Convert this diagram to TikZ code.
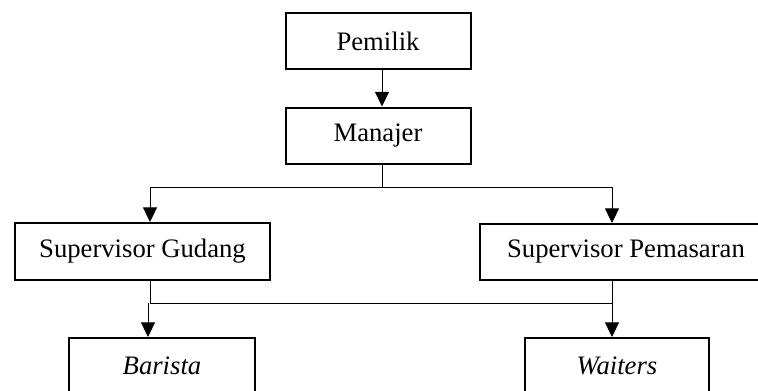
\documentclass[tikz,border=0pt]{standalone}
\usepackage{fontspec}
\setmainfont{Liberation Serif}
\usetikzlibrary{arrows.meta}
\tikzstyle{jabatanStyle} = [draw, line width=1.5pt, minimum height=42pt, inner sep=0pt]
\tikzstyle{garis} = [line width=.75pt]
\tikzstyle{panah} = [line width=.75pt, -{Triangle[width=10.5pt, length=11pt]}]
\begin{document}
\begin{tikzpicture}[x=.75pt, y=-.75pt, font=\fontsize{20}{24}\selectfont]
  \useasboundingbox (0,0) rectangle (758,390);
  \clip (0,0) rectangle (758,390);
  % kotak jabatan
  \node [jabatanStyle, minimum width=138.75pt] (pemilik) at (378,41) {Pemilik};
  \node [jabatanStyle, minimum width=138.75pt] (manajer) at (378,135.5) {Manajer};
  \node [jabatanStyle, minimum width=191.25pt, minimum height=42.75pt] (gudang) at (142.5,251.5) {Supervisor Gudang};
  \node [jabatanStyle, minimum width=219pt] (pemasaran) at (626,252) {Supervisor Pemasaran};
  \node [jabatanStyle, minimum width=139.5pt] (barista) at (162,366) {\itshape Barista};
  \node [jabatanStyle, minimum width=138pt] (waiters) at (617,366) {\itshape Waiters};
  % titik cabang
  \coordinate (atasKiri) at (150,187);
  \coordinate (atasKanan) at (612,187);
  \coordinate (bawahKiri) at (150,303);
  \coordinate (bawahKanan) at (612,303);
  % garis
  \draw [panah] ([xshift=3pt]pemilik.south) -- ([xshift=3pt]manajer.north);
  \draw [garis] ([xshift=3pt]manajer.south) |- (atasKiri);
  \draw [garis] ([xshift=3pt]manajer.south) |- (atasKanan);
  \draw [panah] (atasKiri) -- (atasKiri |- gudang.north);
  \draw [panah] (atasKanan) -- (atasKanan |- pemasaran.north);
  \draw [garis] (gudang.south -| bawahKiri) -- (bawahKiri) -- (bawahKanan) -- (bawahKanan |- pemasaran.south);
  \draw [panah] ([xshift=-1.5pt]bawahKiri) -- ([xshift=-1.5pt]bawahKiri |- barista.north);
  \draw [panah] (bawahKanan) -- (bawahKanan |- waiters.north);
\end{tikzpicture}
\end{document}
